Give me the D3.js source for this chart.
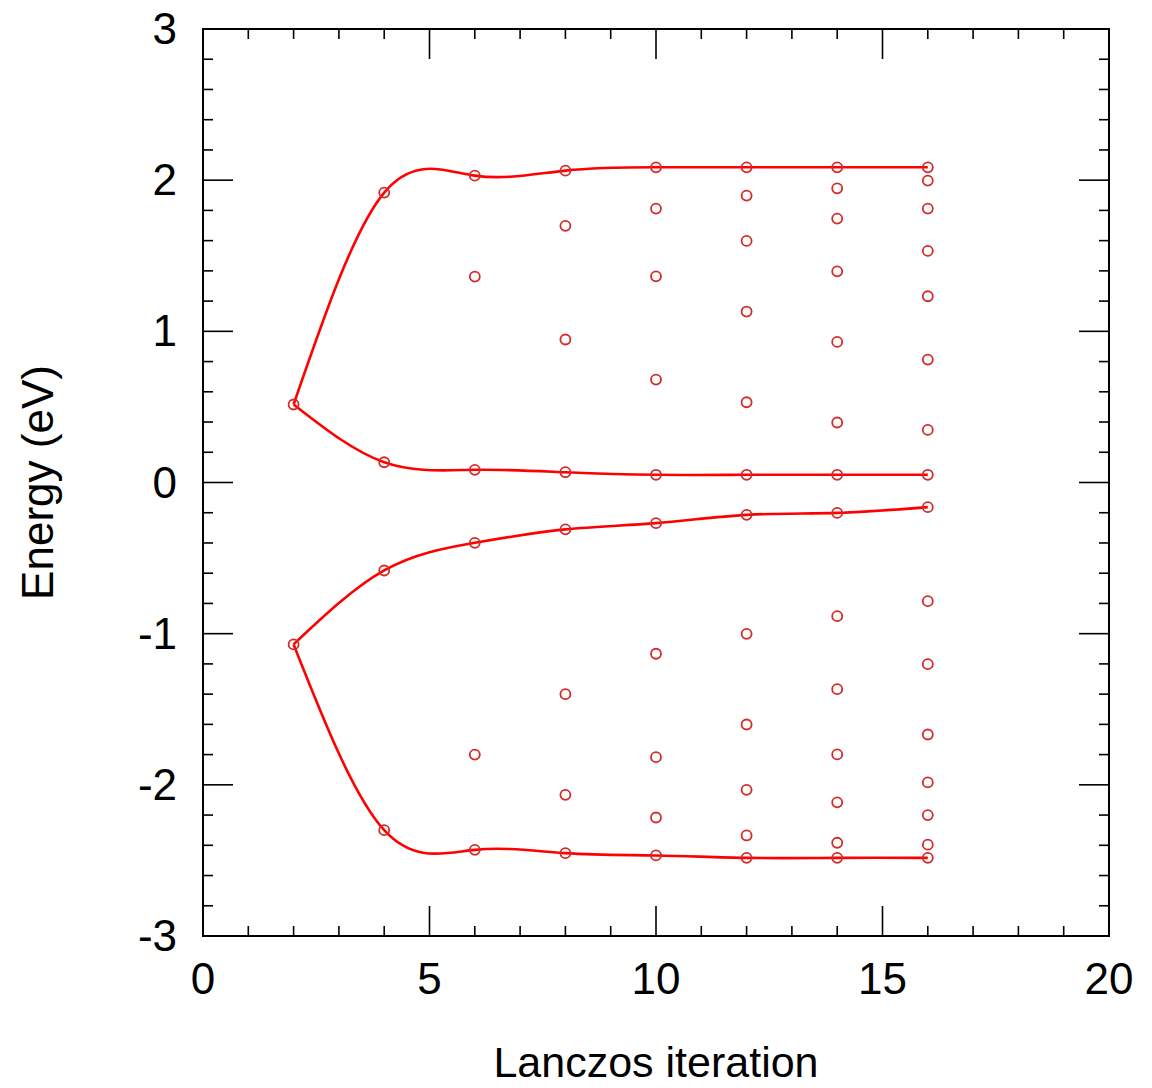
<!DOCTYPE html>
<html>
<head>
<meta charset="utf-8">
<script src="https://cdn.jsdelivr.net/npm/d3@7"></script>
<style>
  body { margin: 0; background: #fff; }
  text { font-family: "Liberation Sans", Arial, Helvetica, sans-serif; fill: #000; }
</style>
</head>
<body>
<svg id="chart" width="1152" height="1088"></svg>
<script>
// Lanczos iterations at which eigenvalues were computed
const iterations = [2, 4, 6, 8, 10, 12, 14, 16];

// Eigenvalues (eV) at each iteration, sorted from highest to lowest
const eigenvalues = [
    [0.516, -1.071],
    [1.918, 0.134, -0.582, -2.30],
    [2.03, 1.362, 0.084, -0.399, -1.80, -2.43],
    [2.063, 1.698, 0.946, 0.068, -0.31, -1.40, -2.066, -2.452],
    [2.085, 1.812, 1.364, 0.681, 0.051, -0.269, -1.133, -1.817, -2.216, -2.467],
    [2.085, 1.898, 1.598, 1.131, 0.531, 0.051, -0.214, -1.001, -1.601, -2.033, -2.335, -2.483],
    [2.085, 1.946, 1.746, 1.397, 0.930, 0.397, 0.051, -0.201, -0.884, -1.367, -1.799, -2.116, -2.383, -2.483],
    [2.085, 1.997, 1.812, 1.532, 1.232, 0.813, 0.348, 0.051, -0.163, -0.785, -1.202, -1.667, -1.984, -2.200, -2.396, -2.483]
];

const xTicks = [0, 5, 10, 15, 20];
const yTicks = [-3, -2, -1, 0, 1, 2, 3];

const svg = d3.select("#chart");
const margin = {top: 29, right: 43, bottom: 152, left: 203};
const width = 1152 - margin.left - margin.right;
const height = 1088 - margin.top - margin.bottom;

const x = d3.scaleLinear().domain([0, 20]).range([margin.left, margin.left + width]);
const y = d3.scaleLinear().domain([-3, 3]).range([margin.top + height, margin.top]);

// Tracked eigenvalues: top, just above gap, just below gap, bottom
const trackers = [
    (vals) => vals[0],
    (vals) => vals[vals.length / 2 - 1],
    (vals) => vals[vals.length / 2],
    (vals) => vals[vals.length - 1]
];

const curves = trackers.map((pick) =>
    iterations.map((it, i) => ({x: it, y: pick(eigenvalues[i])})));

const points = [];
iterations.forEach((it, i) => {
    eigenvalues[i].forEach((v) => points.push({x: it, y: v}));
});

// Ticks, drawn inward on all four sides
const tickGroup = svg.append("g")
    .attr("stroke", "#000")
    .attr("stroke-width", 1.6);

const majorLen = 30, minorLen = 10;
const x0 = margin.left, x1 = margin.left + width;
const y0 = margin.top + height, y1 = margin.top;

d3.range(1, 20).forEach((v) => {
    const len = v % 5 === 0 ? majorLen : minorLen;
    tickGroup.append("line").attr("x1", x(v)).attr("x2", x(v)).attr("y1", y0).attr("y2", y0 - len);
    tickGroup.append("line").attr("x1", x(v)).attr("x2", x(v)).attr("y1", y1).attr("y2", y1 + len);
});

d3.range(-14, 15).forEach((k) => {
    const v = k / 5;
    const len = k % 5 === 0 ? majorLen : minorLen;
    tickGroup.append("line").attr("x1", x0).attr("x2", x0 + len).attr("y1", y(v)).attr("y2", y(v));
    tickGroup.append("line").attr("x1", x1).attr("x2", x1 - len).attr("y1", y(v)).attr("y2", y(v));
});

// Frame
svg.append("rect")
    .attr("x", x0).attr("y", y1)
    .attr("width", width).attr("height", height)
    .attr("fill", "none")
    .attr("stroke", "#000")
    .attr("stroke-width", 2);

// Tick labels
svg.append("g").selectAll("text")
    .data(xTicks)
    .join("text")
    .attr("x", (d) => x(d))
    .attr("y", y0 + 58)
    .attr("text-anchor", "middle")
    .attr("font-size", 44)
    .text((d) => d);

svg.append("g").selectAll("text")
    .data(yTicks)
    .join("text")
    .attr("x", x0 - 26)
    .attr("y", (d) => y(d) + 15)
    .attr("text-anchor", "end")
    .attr("font-size", 44)
    .text((d) => d);

// Axis titles
svg.append("text")
    .attr("x", (x0 + x1) / 2)
    .attr("y", 1077)
    .attr("text-anchor", "middle")
    .attr("font-size", 43)
    .text("Lanczos iteration");

svg.append("text")
    .attr("transform", `translate(53,${(y0 + y1) / 2}) rotate(-90)`)
    .attr("text-anchor", "middle")
    .attr("font-size", 44)
    .text("Energy (eV)");

// Smooth curves through the tracked eigenvalues
const line = d3.line()
    .x((d) => x(d.x))
    .y((d) => y(d.y))
    .curve(d3.curveNatural);

svg.append("g").selectAll("path")
    .data(curves)
    .join("path")
    .attr("d", line)
    .attr("fill", "none")
    .attr("stroke", "#ff0000")
    .attr("stroke-width", 2.6);

// Eigenvalue markers
svg.append("g").selectAll("circle")
    .data(points)
    .join("circle")
    .attr("cx", (d) => x(d.x))
    .attr("cy", (d) => y(d.y))
    .attr("r", 5)
    .attr("fill", "none")
    .attr("stroke", "#d42a2a")
    .attr("stroke-width", 1.8);
</script>
</body>
</html>
